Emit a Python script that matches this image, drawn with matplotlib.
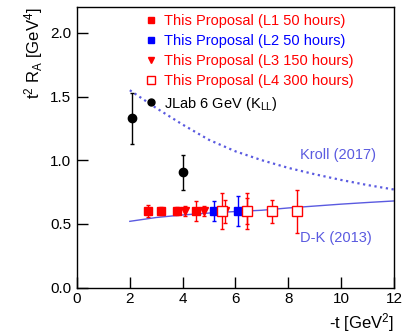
import matplotlib
matplotlib.use("Agg")
import matplotlib.pyplot as plt
from matplotlib.lines import Line2D
import numpy as np

plt.rcParams['font.family'] = ['Liberation Sans', 'DejaVu Sans']
plt.rcParams['mathtext.fontset'] = 'custom'
plt.rcParams['mathtext.rm'] = 'Liberation Sans'
plt.rcParams['mathtext.it'] = 'Liberation Sans'

# Data
l1_x = [2.68, 3.18, 3.80, 4.50]
l1_y = [0.60, 0.60, 0.60, 0.60]
l1_e = [0.048, 0.03, 0.03, 0.08]

l2_x = [5.19, 6.10]
l2_y = [0.60, 0.60]
l2_e = [0.08, 0.12]

l3_x = [4.09, 4.81, 5.60, 6.43]
l3_y = [0.60, 0.60, 0.60, 0.60]
l3_e = [0.04, 0.04, 0.09, 0.10]

l4_x = [5.50, 6.43, 7.40, 8.32]
l4_y = [0.60, 0.60, 0.60, 0.60]
l4_e = [0.14, 0.14, 0.09, 0.17]

jlab_x = [2.08, 4.00]
jlab_y = [1.33, 0.905]
jlab_e = [0.20, 0.135]

kroll_x = [2, 3, 4, 5, 6, 7, 8, 9, 10, 11, 12]
kroll_y = [1.55, 1.41, 1.28, 1.16, 1.07, 1.00, 0.94, 0.89, 0.845, 0.805, 0.77]

dk_x = [2, 3, 4, 5, 6, 7, 8, 9, 10, 11, 12]
dk_y = [0.52, 0.55, 0.57, 0.585, 0.597, 0.607, 0.625, 0.64, 0.655, 0.668, 0.68]

labels = ['This Proposal (L1 50 hours)', 'This Proposal (L2 50 hours)',
          'This Proposal (L3 150 hours)', 'This Proposal (L4 300 hours)',
          r'JLab 6 GeV (K$_{\mathrm{LL}}$)']

curve_col = '#5a5ae0'
red = '#ff0000'
blue = '#0000ff'

fig = plt.figure(figsize=(4.04, 3.33), dpi=100)
ax = fig.add_axes([0.1906, 0.1366, 0.7844, 0.8409])

ax.plot(kroll_x, kroll_y, color=curve_col, lw=1.6, ls=(0, (1, 1.6)))
ax.plot(dk_x, dk_y, color=curve_col, lw=1.0)

ekw = dict(ls='none', capsize=1.5, elinewidth=1, capthick=1)
ax.errorbar(l1_x, l1_y, yerr=l1_e, marker='s', ms=6, color=red, **ekw)
ax.errorbar(l2_x, l2_y, yerr=l2_e, marker='s', ms=6, color=blue, **ekw)
ax.errorbar(l3_x, l3_y, yerr=l3_e, marker='v', ms=6, color=red, **ekw)
ax.errorbar(l4_x, l4_y, yerr=l4_e, marker='s', ms=7, mfc='white', mec=red, color=red, **ekw)
ax.errorbar(jlab_x, jlab_y, yerr=jlab_e, marker='o', ms=6, color='black', **ekw)

handles = [
    Line2D([], [], ls='none', marker='s', ms=5, color=red),
    Line2D([], [], ls='none', marker='s', ms=5, color=blue),
    Line2D([], [], ls='none', marker='v', ms=5, color=red),
    Line2D([], [], ls='none', marker='s', ms=6, mfc='white', mec=red),
    Line2D([], [], ls='none', marker='o', ms=5, color='black'),
]

ax.set_xlim(0, 12)
ax.set_ylim(0, 2.2)
ax.set_xticks([0, 2, 4, 6, 8, 10, 12])
ax.set_yticks([0.0, 0.5, 1.0, 1.5, 2.0])
ax.set_yticklabels(['0.0', '0.5', '1.0', '1.5', '2.0'])
ax.tick_params(direction='in', length=8, width=1, labelsize=11, pad=4)
ax.tick_params(axis='x', pad=3)
for s in ax.spines.values():
    s.set_linewidth(1)

leg = ax.legend(handles, labels, loc='upper left', bbox_to_anchor=(0.2, 1.0), frameon=False,
                fontsize=10.5, handlelength=0.6, handletextpad=0.6,
                labelspacing=0.42, borderaxespad=0.05)
for t, c in zip(leg.get_texts(), [red, blue, red, red, 'black']):
    t.set_color(c)

ax.text(8.45, 1.045, 'Kroll (2017)', color=curve_col, fontsize=10.5, va='center')
ax.text(8.45, 0.39, 'D-K (2013)', color=curve_col, fontsize=10.5, va='center')

ax.set_xlabel(r'-t [GeV$^2$]', fontsize=12, loc='right')
ax.set_ylabel(r't$^2$ R$_A$ [GeV$^4$]', fontsize=12, loc='top')

fig.savefig('out.png', dpi=100)
